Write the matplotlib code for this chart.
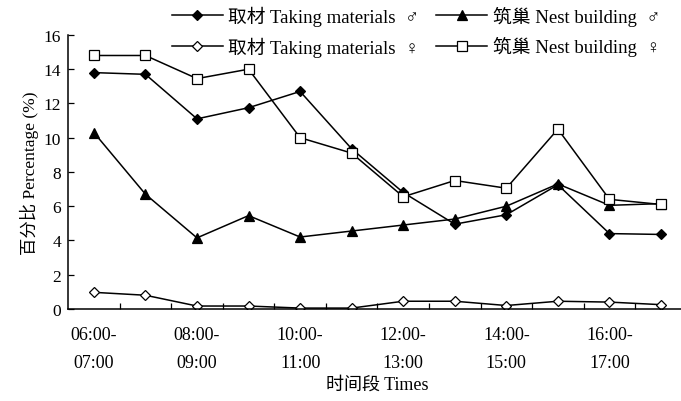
import matplotlib.pyplot as plt

plt.rcParams['font.family'] = ['Liberation Serif', 'DejaVu Sans', 'Noto Sans CJK SC']
plt.rcParams['axes.unicode_minus'] = False

tick_labels = ['06:00-\n07:00', '08:00-\n09:00', '10:00-\n11:00',
               '12:00-\n13:00', '14:00-\n15:00', '16:00-\n17:00']
taking_male = [13.8, 13.7, 11.1, 11.75, 12.7, 9.35, 6.8, 4.95, 5.5, 7.25, 4.4, 4.35]
nest_male = [10.3, 6.7, 4.15, 5.45, 4.2, 4.55, 4.9, 5.25, 6.0, 7.3, 6.05, 6.15]
taking_female = [0.97, 0.8, 0.17, 0.17, 0.05, 0.05, 0.45, 0.45, 0.2, 0.45, 0.4, 0.25]
nest_female = [14.8, 14.8, 13.45, 14.0, 10.0, 9.1, 6.55, 7.5, 7.05, 10.5, 6.4, 6.1]

x = list(range(len(taking_male)))

fig = plt.figure(figsize=(6.81, 4.02), dpi=100)
ax = fig.add_axes([0.1, 0.229, 0.9085, 0.6816])

kw = dict(color='black', lw=1.1, markeredgecolor='black', markeredgewidth=0.9)
l1, = ax.plot(x, taking_male, marker='D', ms=5.5, markerfacecolor='black', **kw)
l2, = ax.plot(x, nest_male, marker='^', ms=7, markerfacecolor='black', **kw)
l3, = ax.plot(x, taking_female, marker='D', ms=5.5, markerfacecolor='white', **kw)
l4, = ax.plot(x, nest_female, marker='s', ms=7, markerfacecolor='white', **kw)

ax.set_xlim(-0.5, 11.5)
ax.set_ylim(0, 16)
ax.set_yticks(range(0, 17, 2))
ax.set_xticks(x[::2])
ax.set_xticklabels(tick_labels, fontsize=13, linespacing=1.9)
ax.set_xticks([i + 0.5 for i in x[:-1]], minor=True)
ax.tick_params(axis='x', which='major', length=0, pad=12)
ax.tick_params(axis='x', which='minor', direction='in', length=4, width=0.9)
ax.tick_params(axis='y', direction='in', length=4, width=0.9, labelsize=12.5, pad=5)
for s in ['top', 'right']:
    ax.spines[s].set_visible(False)
for s in ['left', 'bottom']:
    ax.spines[s].set_linewidth(1.1)

ax.set_ylabel('百分比 Percentage (%)', fontsize=12.5, labelpad=3)
ax.set_xlabel('时间段 Times', fontsize=13, labelpad=3)

fig.legend([l1, l3, l2, l4],
           ['取材 Taking materials  ♂', '取材 Taking materials  ♀',
            '筑巢 Nest building  ♂', '筑巢 Nest building  ♀'],
           ncol=2, frameon=False, loc='upper left', bbox_to_anchor=(0.228, 1.025),
           fontsize=13.5, handlelength=2.7, labelspacing=0.55, columnspacing=0.9,
           handletextpad=0.3)

fig.savefig('out.png', dpi=100)
